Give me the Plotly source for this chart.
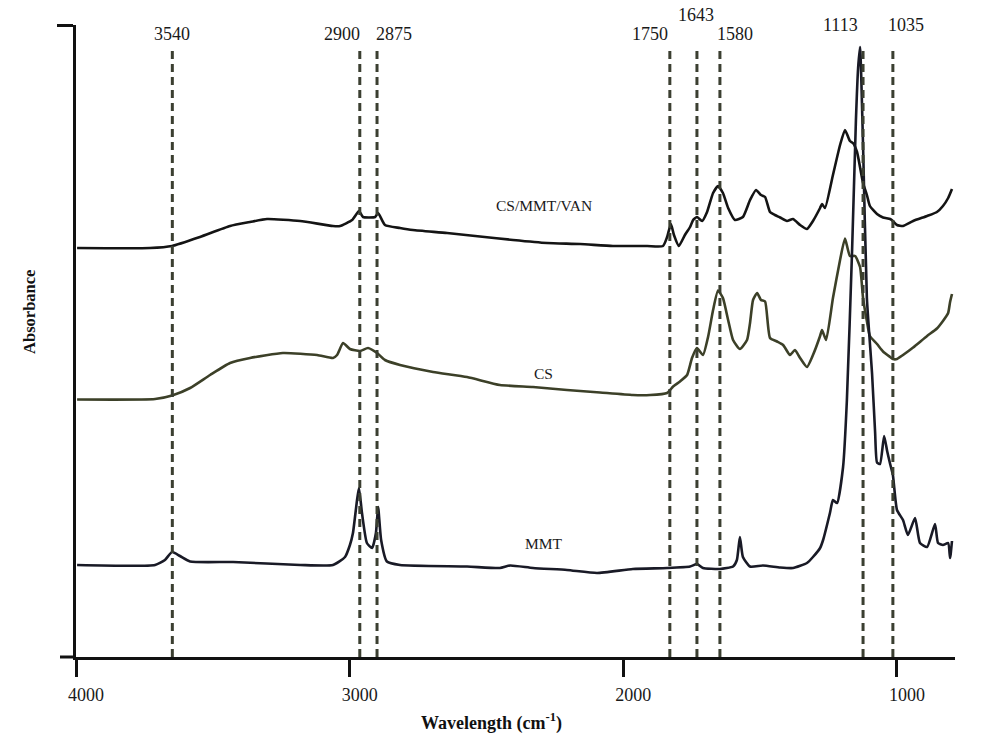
import plotly.graph_objects as go

# ---------------- data (wavenumber cm-1, absorbance a.u., stacked) ----------------
wn_van = [3996, 3730, 3649, 3547, 3437, 3364, 3302, 3181, 3061, 3035,
          2991, 2966, 2951, 2907, 2896, 2871, 2816, 2769, 2644, 2524,
          2403, 2279, 2158, 2038, 1913, 1855, 1840, 1826, 1815, 1797,
          1775, 1756, 1745, 1731, 1712, 1694, 1672, 1654, 1636, 1617,
          1592, 1563, 1537, 1515, 1497, 1482, 1464, 1446, 1427, 1402,
          1380, 1354, 1329, 1307, 1281, 1274, 1263, 1234, 1208, 1190,
          1172, 1161, 1146, 1124, 1110, 1099, 1073, 1051, 1025, 1015,
          1000, 978, 941, 890, 854, 832, 813, 799]
abs_van = [0.818, 0.818, 0.822, 0.840, 0.862, 0.870, 0.876, 0.872, 0.862, 0.862,
           0.874, 0.892, 0.880, 0.880, 0.888, 0.864, 0.858, 0.854, 0.848, 0.841,
           0.834, 0.828, 0.826, 0.822, 0.822, 0.822, 0.840, 0.866, 0.844, 0.822,
           0.844, 0.860, 0.874, 0.880, 0.872, 0.890, 0.928, 0.942, 0.928, 0.898,
           0.874, 0.880, 0.914, 0.934, 0.924, 0.920, 0.890, 0.884, 0.879, 0.872,
           0.876, 0.864, 0.856, 0.872, 0.898, 0.906, 0.898, 0.964, 1.024, 1.054,
           1.032, 1.028, 1.010, 0.948, 0.924, 0.902, 0.886, 0.879, 0.876, 0.872,
           0.864, 0.862, 0.872, 0.882, 0.890, 0.902, 0.918, 0.936]

wn_cs = [3996, 3711, 3649, 3583, 3510, 3437, 3364, 3244, 3119, 3061,
         3046, 3024, 2999, 2962, 2933, 2900, 2871, 2816, 2695, 2571,
         2451, 2330, 2206, 2085, 1965, 1902, 1840, 1818, 1793, 1767,
         1749, 1731, 1709, 1690, 1672, 1654, 1636, 1617, 1599, 1574,
         1548, 1537, 1526, 1511, 1497, 1482, 1464, 1438, 1416, 1391,
         1373, 1354, 1329, 1307, 1281, 1274, 1259, 1234, 1208, 1190,
         1172, 1153, 1135, 1124, 1110, 1099, 1073, 1051, 1025, 1015,
         1000, 978, 941, 890, 854, 832, 813, 806, 799]
abs_cs = [0.515, 0.516, 0.523, 0.538, 0.564, 0.588, 0.598, 0.608, 0.604, 0.598,
          0.604, 0.628, 0.616, 0.612, 0.618, 0.608, 0.594, 0.584, 0.570, 0.560,
          0.544, 0.540, 0.534, 0.529, 0.524, 0.524, 0.528, 0.541, 0.551, 0.564,
          0.598, 0.618, 0.604, 0.641, 0.694, 0.733, 0.718, 0.674, 0.634, 0.616,
          0.634, 0.668, 0.714, 0.728, 0.714, 0.711, 0.638, 0.631, 0.624, 0.604,
          0.614, 0.598, 0.580, 0.604, 0.642, 0.654, 0.634, 0.718, 0.794, 0.837,
          0.802, 0.802, 0.780, 0.718, 0.672, 0.642, 0.626, 0.611, 0.600, 0.596,
          0.596, 0.604, 0.619, 0.642, 0.657, 0.672, 0.688, 0.710, 0.726]

wn_mmt = [3996, 3711, 3675, 3649, 3620, 3583, 3426, 3181, 3061, 3017,
          2999, 2988, 2973, 2966, 2955, 2937, 2918, 2904, 2896, 2885,
          2864, 2816, 2571, 2451, 2414, 2330, 2206, 2096, 1965, 1840,
          1756, 1731, 1709, 1647, 1599, 1585, 1574, 1563, 1537, 1490,
          1427, 1380, 1329, 1307, 1281, 1270, 1245, 1234, 1219, 1197,
          1183, 1164, 1150, 1142, 1135, 1124, 1110, 1091, 1080, 1073,
          1062, 1047, 1036, 1025, 1015, 1000, 978, 960, 934, 916,
          890, 861, 850, 832, 813, 806, 799]
abs_mmt = [0.184, 0.184, 0.194, 0.210, 0.202, 0.191, 0.190, 0.184, 0.184, 0.200,
           0.224, 0.248, 0.314, 0.338, 0.288, 0.228, 0.218, 0.248, 0.300, 0.234,
           0.191, 0.184, 0.181, 0.178, 0.183, 0.178, 0.174, 0.168, 0.176, 0.178,
           0.181, 0.186, 0.178, 0.176, 0.181, 0.194, 0.240, 0.200, 0.181, 0.183,
           0.179, 0.178, 0.188, 0.200, 0.218, 0.234, 0.288, 0.314, 0.308, 0.380,
           0.514, 0.814, 1.074, 1.178, 1.220, 1.024, 0.718, 0.566, 0.450, 0.389,
           0.386, 0.442, 0.412, 0.386, 0.364, 0.294, 0.274, 0.244, 0.278, 0.228,
           0.220, 0.266, 0.228, 0.224, 0.228, 0.198, 0.232]

series_names = ["CS/MMT/VAN", "CS", "MMT"]
series_label_pos = [(2290, 0.904), (2290, 0.568), (2290, 0.228)]

peak_labels = ["3540", "2900", "2875", "1750", "1643", "1580", "1113", "1035"]
peak_lines = [3648, 2963, 2900, 1830, 1731, 1647, 1124, 1015]

x_ticks = [4000, 3000, 2000, 1000]
x_tick_text = ["4000", "3000", "2000", "1000"]

# ---------------- styling ----------------
SERIF = "Liberation Serif"
AXIS_COL = "#111111"
DASH_COL = "#3b3f31"
line_colors = ["#141414", "#3c4028", "#191a26"]
label_xshift = [0, -18, 17, -20, -1, 15, -23, 13]
label_ypaper = [0.986, 0.986, 0.986, 0.986, 1.016, 0.986, 1.0, 1.0]
LINE_TOP = 1.215

fig = go.Figure()
for name, xs, ys, col in zip(series_names,
                             [wn_van, wn_cs, wn_mmt],
                             [abs_van, abs_cs, abs_mmt],
                             line_colors):
    fig.add_trace(go.Scatter(x=xs, y=ys, mode="lines", name=name,
                             line=dict(color=col, width=2.6, shape="spline", smoothing=0.5),
                             showlegend=False, hoverinfo="skip"))

# dashed reference lines
for xv in peak_lines:
    fig.add_shape(type="line", xref="x", yref="y", x0=xv, x1=xv, y0=0, y1=LINE_TOP,
                  line=dict(color=DASH_COL, width=3, dash="8px,5px"))

# peak labels
for txt, xv, dx, yp in zip(peak_labels, peak_lines, label_xshift, label_ypaper):
    fig.add_annotation(x=xv, y=yp, xref="x", yref="paper", text=txt, showarrow=False,
                       xshift=dx, xanchor="center", yanchor="middle",
                       font=dict(family=SERIF, size=18, color="#1a1a1a"))

# series labels
for txt, (xv, yv) in zip(series_names, series_label_pos):
    fig.add_annotation(x=xv, y=yv, xref="x", yref="y", text=txt, showarrow=False,
                       xanchor="center", yanchor="middle",
                       font=dict(family=SERIF, size=15.5, color="#1a1a1a"))

# axis titles
fig.add_annotation(x=0.473, y=-0.103, xref="paper", yref="paper",
                   text="<b>Wavelength (cm<sup>-1</sup>)</b>", showarrow=False,
                   xanchor="center", yanchor="middle",
                   font=dict(family=SERIF, size=18, color="#111111"))
fig.add_annotation(x=-0.0523, y=0.546, xref="paper", yref="paper",
                   text="<b>Absorbance</b>", showarrow=False, textangle=-90,
                   xanchor="center", yanchor="middle",
                   font=dict(family=SERIF, size=16.5, color="#111111"))

# small extension of the x axis line to the left of the y axis
fig.add_shape(type="line", xref="paper", yref="paper", x0=-0.0182, x1=0, y0=0, y1=0,
              line=dict(color=AXIS_COL, width=3))

fig.update_xaxes(range=[4000, 788], showgrid=False, zeroline=False,
                 showline=True, linecolor=AXIS_COL, linewidth=3,
                 ticks="outside", ticklen=17, tickwidth=3, tickcolor=AXIS_COL,
                 tickvals=x_ticks, ticktext=x_tick_text,
                 ticklabelstandoff=2, ticklabelshift=-10,
                 tickfont=dict(family=SERIF, size=18, color="#1a1a1a"))
fig.update_yaxes(range=[0, 1.264], showgrid=False, zeroline=False,
                 showline=True, linecolor=AXIS_COL, linewidth=3,
                 ticks="outside", ticklen=16, tickwidth=3, tickcolor=AXIS_COL,
                 tickvals=[1.264], showticklabels=False)

fig.update_layout(width=1000, height=749, plot_bgcolor="white", paper_bgcolor="white",
                  margin=dict(l=76, r=45, t=25, b=92))

fig.write_html("out.html")
